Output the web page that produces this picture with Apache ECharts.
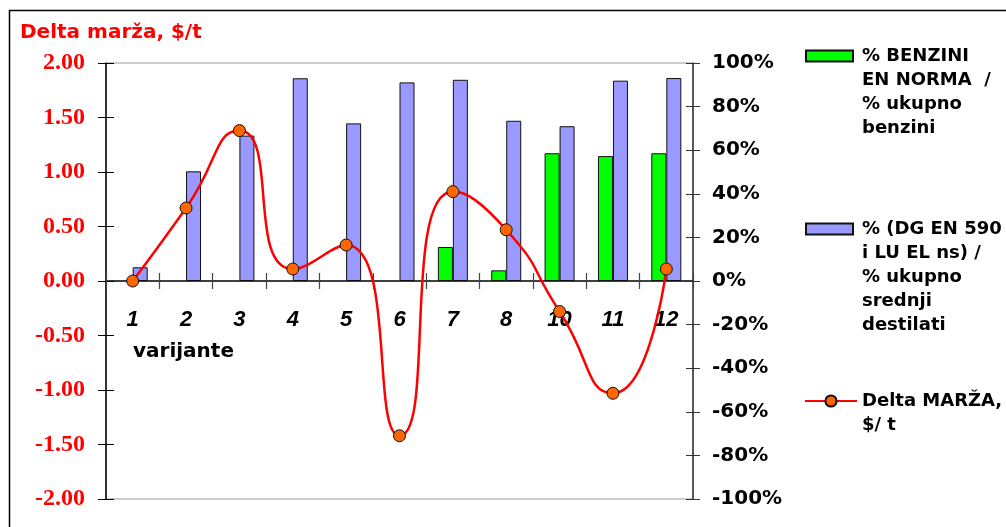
<!DOCTYPE html>
<html>
<head>
<meta charset="utf-8">
<script src="https://cdn.jsdelivr.net/npm/echarts@6/dist/echarts.min.js"></script>
<style>
html,body{margin:0;padding:0;background:#fff;}
#chart{width:1006px;height:527px;}
</style>
</head>
<body>
<div id="chart"></div>
<script>
// ---- data ----
const categories = ['1', '2', '3', '4', '5', '6', '7', '8', '10', '11', '12'];
const benziniPct = [null, null, null, null, null, null, 15.6, 4.9, 58.6, 57.3, 58.6];
const dgPct = [6.3, 50.3, 66.7, 93.0, 72.3, 91.1, 92.3, 73.5, 71.0, 91.9, 93.1];
const deltaMarza = [0.00, 0.67, 1.38, 0.11, 0.33, -1.42, 0.82, 0.47, -0.28, -1.03, 0.11];
const seriesNames = [
  '% BENZINI\nEN NORMA  /\n% ukupno\nbenzini',
  '% (DG EN 590\ni LU EL ns) /\n% ukupno\nsrednji\ndestilati',
  'Delta MARŽA,\n$/ t'
];
const titleText = 'Delta marža, $/t';
const xAxisTitle = 'varijante';

const chart = echarts.init(document.getElementById('chart'), null, {renderer: 'canvas'});

const LH = 24;
// prefix a multi-line legend label with empty lines so its first line sits level with the icon
function padLines(name) {
  const n = name.split('\n').length;
  return ' \n'.repeat(n - 1) + name;
}
function legendTop(iconY, name) {
  const n = name.split('\n').length;
  return iconY - (2 * n - 1) * LH / 2;
}
function legendText(padLeft) {
  return {
    color: '#000', fontWeight: 'bold', fontSize: 18, fontFamily: 'DejaVu Sans',
    lineHeight: LH, padding: [0, 0, 0, padLeft]
  };
}

// plot area geometry
const gridTop = 63, gridBottom = 28, chartH = 527;
const plotH = chartH - gridTop - gridBottom;
const zeroOffset = -plotH / 2; // move category axis from bottom to the zero line

const leftScale = {type: 'value', min: -2, max: 2, interval: 0.5, position: 'left'};
const rightScale = {type: 'value', min: -100, max: 100, interval: 20, position: 'right'};
const hidden = {axisLine: {show: false}, axisLabel: {show: false}, splitLine: {show: false}};

const option = {
  animation: false,
  backgroundColor: '#fff',
  graphic: [{
    type: 'rect', silent: true, z: -10,
    shape: {x: 9.5, y: 10.5, width: 1100, height: 600},
    style: {fill: 'none', stroke: '#000', lineWidth: 1.5}
  }],
  title: [
    {text: titleText, left: 20, top: 23, padding: 0,
     textStyle: {color: '#ff0000', fontWeight: 'bold', fontSize: 20, fontFamily: 'DejaVu Sans', lineHeight: 20}},
    {text: xAxisTitle, left: 133, top: 342, padding: 0,
     textStyle: {color: '#000', fontWeight: 'bold', fontSize: 20, fontFamily: 'DejaVu Sans', lineHeight: 20}}
  ],
  legend: [
    {data: [seriesNames[0]], orient: 'vertical', left: 805, top: legendTop(56, seriesNames[0]), padding: 0,
     itemWidth: 47, itemHeight: 11, icon: 'rect', selectedMode: false,
     formatter: padLines, textStyle: legendText(4)},
    {data: [seriesNames[1]], orient: 'vertical', left: 805, top: legendTop(229, seriesNames[1]), padding: 0,
     itemWidth: 47, itemHeight: 11, icon: 'rect', selectedMode: false,
     formatter: padLines, textStyle: legendText(4)},
    {data: [seriesNames[2]], orient: 'vertical', left: 804, top: legendTop(401, seriesNames[2]), padding: 0,
     itemWidth: 52, itemHeight: 14, selectedMode: false,
     formatter: padLines, textStyle: legendText(0)}
  ],
  grid: {left: 106, right: 313, top: gridTop, bottom: gridBottom, containLabel: false, outerBoundsMode: 'none',
         show: true, borderColor: '#999', borderWidth: 1, backgroundColor: 'transparent'},
  xAxis: [
    {type: 'category', data: categories, position: 'bottom', offset: zeroOffset,
     axisLine: {show: true, onZero: false, lineStyle: {color: '#000', width: 1.5}},
     axisTick: {show: true, length: 8, lineStyle: {color: '#444', width: 1.2}},
     axisLabel: {show: true, margin: 28, color: '#000', fontWeight: 'bold', fontStyle: 'italic',
                 fontSize: 22, fontFamily: 'Liberation Sans', interval: 0},
     splitLine: {show: false}},
    // same axis again, only for the upper half of the crossing ticks
    Object.assign({type: 'category', data: categories, position: 'bottom', offset: zeroOffset,
     axisTick: {show: true, inside: true, length: 8, lineStyle: {color: '#444', width: 1.2}}}, hidden,
     {axisLine: {show: false, onZero: false}})
  ],
  yAxis: [
    Object.assign({}, leftScale, {
     axisLine: {show: true, onZero: false, lineStyle: {color: '#000', width: 1.5}},
     axisTick: {show: true, length: 8, lineStyle: {color: '#000'}},
     axisLabel: {margin: 21, color: '#ff0000', fontWeight: 'bold', fontSize: 24,
                 fontFamily: 'Liberation Serif', formatter: v => v.toFixed(2)},
     splitLine: {show: false}}),
    Object.assign({}, rightScale, {
     axisLine: {show: true, onZero: false, lineStyle: {color: '#333', width: 1.5}},
     axisTick: {show: true, length: 7, lineStyle: {color: '#333'}},
     axisLabel: {margin: 19, color: '#000', fontWeight: 'bold', fontSize: 20,
                 fontFamily: 'DejaVu Sans', formatter: '{value}%'},
     splitLine: {show: false}}),
    // copies for the inner half of the crossing ticks
    Object.assign({}, leftScale, hidden, {axisLine: {show: false, onZero: false},
     axisTick: {show: true, inside: true, length: 8, lineStyle: {color: '#000'}}}),
    Object.assign({}, rightScale, hidden, {axisLine: {show: false, onZero: false},
     axisTick: {show: true, inside: true, length: 7, lineStyle: {color: '#333'}}})
  ],
  series: [
    {name: seriesNames[0], type: 'bar', xAxisIndex: 0, yAxisIndex: 1, data: benziniPct,
     barWidth: 15, barGap: '0%',
     itemStyle: {color: '#00ff00', borderColor: '#111', borderWidth: 1}},
    {name: seriesNames[1], type: 'bar', xAxisIndex: 0, yAxisIndex: 1, data: dgPct,
     barWidth: 15, barGap: '0%',
     itemStyle: {color: '#9999ff', borderColor: '#111', borderWidth: 1}},
    {name: seriesNames[2], type: 'line', xAxisIndex: 0, yAxisIndex: 0, data: deltaMarza,
     smooth: 0.6, symbol: 'circle', symbolSize: 12, z: 5,
     lineStyle: {color: '#ff0000', width: 2.5},
     itemStyle: {color: '#ff6600', borderColor: '#111', borderWidth: 1}}
  ]
};
chart.setOption(option);
</script>
</body>
</html>
